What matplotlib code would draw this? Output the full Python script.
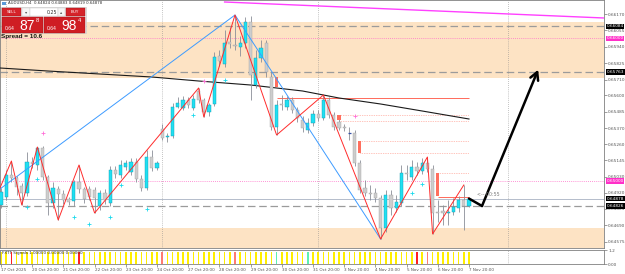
import matplotlib
matplotlib.use("Agg")
import matplotlib.pyplot as plt
import matplotlib.transforms as mtransforms
from matplotlib.patches import Rectangle

W, H = 625, 274
PLOT_RIGHT = 604          # px, right edge of chart area
MAIN_BOTTOM = 248         # px, bottom of price window
SUB_TOP, SUB_BOTTOM = 250, 264
BAR_PX = 5.2              # px per H4 bar

# --- AUDUSD H4 candles, 17 Oct 20:00 .. 7 Nov 20:00 ---
opens = [0.64833, 0.64889, 0.65043, 0.65022, 0.64966, 0.64917, 0.65134, 0.65113, 0.65232, 0.65029,
         0.64847, 0.64945, 0.64910, 0.64875, 0.64861, 0.64994, 0.64945, 0.64945, 0.64938, 0.64826,
         0.64917, 0.64847, 0.65078, 0.65043, 0.65099, 0.65064, 0.65134, 0.65015, 0.64952, 0.65169,
         0.65092, 0.65365, 0.65309, 0.65316, 0.65519, 0.65512, 0.65568, 0.65512, 0.65631, 0.65568,
         0.65484, 0.65540, 0.65876, 0.65820, 0.65974, 0.65953, 0.65939, 0.65967, 0.66114, 0.65673,
         0.65862, 0.65967, 0.65729, 0.65379, 0.65540, 0.65519, 0.65568, 0.65498, 0.65428, 0.65358,
         0.65407, 0.65470, 0.65442, 0.65568, 0.65463, 0.65414, 0.65379, 0.65337, 0.65337, 0.65127,
         0.64952, 0.64917, 0.64917, 0.64882, 0.64672, 0.64903, 0.64812, 0.64847, 0.65057, 0.65029,
         0.65099, 0.65071, 0.65127, 0.65085, 0.64784, 0.64791, 0.64777, 0.64784, 0.64812, 0.64868,
         0.64824]
highs = [0.64952, 0.65078, 0.65141, 0.65036, 0.64987, 0.65204, 0.65169, 0.65239, 0.65246, 0.65043,
         0.64994, 0.64966, 0.64938, 0.64889, 0.65008, 0.65113, 0.64959, 0.64966, 0.64959, 0.64938,
         0.64945, 0.65106, 0.65106, 0.65148, 0.65148, 0.65162, 0.65162, 0.65043, 0.65218, 0.65218,
         0.65141, 0.65400, 0.65337, 0.65547, 0.65589, 0.65596, 0.65589, 0.65603, 0.65652, 0.65582,
         0.65547, 0.65904, 0.65918, 0.66058, 0.66079, 0.66163, 0.66016, 0.66149, 0.66156, 0.65918,
         0.65988, 0.65988, 0.65764, 0.65568, 0.65603, 0.65596, 0.65589, 0.65519, 0.65456, 0.65442,
         0.65498, 0.65498, 0.65603, 0.65589, 0.65484, 0.65442, 0.65400, 0.65379, 0.65358, 0.65148,
         0.65008, 0.64973, 0.64952, 0.64903, 0.64938, 0.64938, 0.64903, 0.65113, 0.65113, 0.65148,
         0.65134, 0.65162, 0.65169, 0.65113, 0.64868, 0.64833, 0.64868, 0.64882, 0.64896, 0.64973,
         0.64883]
lows = [0.64812, 0.64868, 0.64994, 0.64903, 0.64833, 0.64896, 0.65092, 0.65078, 0.65008, 0.64763,
        0.64812, 0.64728, 0.64840, 0.64833, 0.64826, 0.64917, 0.64847, 0.64868, 0.64777, 0.64798,
        0.64840, 0.64826, 0.65022, 0.65022, 0.65078, 0.65043, 0.64994, 0.64931, 0.64938, 0.65071,
        0.65078, 0.65288, 0.65274, 0.65302, 0.65512, 0.65498, 0.65512, 0.65498, 0.65547, 0.65449,
        0.65456, 0.65526, 0.65806, 0.65799, 0.65932, 0.65918, 0.65876, 0.65932, 0.65568, 0.65652,
        0.65834, 0.65729, 0.65358, 0.65323, 0.65498, 0.65498, 0.65477, 0.65414, 0.65344, 0.65337,
        0.65386, 0.65421, 0.65428, 0.65442, 0.65358, 0.65358, 0.65351, 0.65288, 0.65106, 0.64917,
        0.64896, 0.64868, 0.64854, 0.64595, 0.64644, 0.64763, 0.64784, 0.64826, 0.65008, 0.65008,
        0.65043, 0.65050, 0.65064, 0.64630, 0.64714, 0.64693, 0.64693, 0.64763, 0.64784, 0.64658,
        0.64819]
closes = [0.64924, 0.65043, 0.65022, 0.64959, 0.64917, 0.65134, 0.65120, 0.65232, 0.65029, 0.64847,
          0.64952, 0.64910, 0.64868, 0.64854, 0.64994, 0.64945, 0.64875, 0.64889, 0.64882, 0.64917,
          0.64868, 0.65078, 0.65050, 0.65113, 0.65127, 0.65134, 0.65015, 0.64952, 0.65169, 0.65092,
          0.65127, 0.65302, 0.65316, 0.65519, 0.65547, 0.65568, 0.65533, 0.65575, 0.65568, 0.65484,
          0.65533, 0.65869, 0.65841, 0.65967, 0.65960, 0.65946, 0.65967, 0.66114, 0.65743, 0.65862,
          0.65932, 0.65764, 0.65379, 0.65533, 0.65533, 0.65568, 0.65498, 0.65442, 0.65372, 0.65407,
          0.65470, 0.65442, 0.65568, 0.65463, 0.65379, 0.65372, 0.65372, 0.65337, 0.65127, 0.64938,
          0.64917, 0.64910, 0.64882, 0.64672, 0.64903, 0.64812, 0.64854, 0.65057, 0.65050, 0.65099,
          0.65071, 0.65127, 0.65085, 0.64777, 0.64777, 0.64777, 0.64784, 0.64819, 0.64868, 0.64826,
          0.64878]

# time axis
tick_bars = [0, 6, 12, 18, 24, 30, 36, 42, 48, 54, 60, 66, 72, 78, 84, 90]
tick_labels = ["17 Oct 2025", "20 Oct 20:00", "21 Oct 20:00", "22 Oct 20:00", "23 Oct 20:00",
               "24 Oct 20:00", "27 Oct 20:00", "28 Oct 20:00", "29 Oct 20:00", "30 Oct 20:00",
               "31 Oct 20:00", "3 Nov 20:00", "4 Nov 20:00", "5 Nov 20:00", "6 Nov 20:00",
               "7 Nov 20:00"]
separator_bars = [1, 31, 61, 97.5]

# right price scale
price_ticks = [0.66170, 0.66055, 0.65940, 0.65825, 0.65710, 0.65600, 0.65485, 0.65370,
               0.65260, 0.65145, 0.65030, 0.64920, 0.64805, 0.64690, 0.64575]

# indicators / objects
zigzag_bars = [-0.2, 2, 4, 7, 11, 15, 18, 38, 39, 45, 53, 62, 73, 82, 83, 89]
zigzag_vals = [0.64952, 0.65141, 0.64833, 0.65239, 0.64728, 0.65113, 0.64777, 0.65652,
               0.65449, 0.66163, 0.65323, 0.65603, 0.64595, 0.65169, 0.64630, 0.64973]
wave_bars = [-0.2, 45, 73]
wave_vals = [0.64945, 0.66163, 0.64595]
ma_bars = [-0.2, 9, 19, 29, 38, 48, 58, 65, 73, 81, 90]
ma_vals = [0.65792, 0.65771, 0.65750, 0.65729, 0.65701, 0.65673, 0.65631, 0.65582,
           0.65540, 0.65491, 0.65435]
trend_bars = [43, 116]
trend_vals = [0.66254, 0.66142]

supply_zone = (0.65725, 0.66115)
demand_zone = (0.64500, 0.64673)
dashed_levels = [0.66084, 0.65763, 0.64826]
round_levels = [0.66000, 0.65000]
bid = 0.64878

red_level = (53, 0.65582)
dotted_levels = [(65, 0.65463), (65, 0.65421), (69, 0.65281), (69, 0.65197), (84, 0.65057)]
solid_short = (84, 0.64889)
box_bars = [53, 65, 69, 84]
box_top = [0.65729, 0.65463, 0.65281, 0.65057]
box_bottom = [0.65659, 0.65428, 0.65197, 0.64896]

buy_mark_bars = [5, 7, 14, 17, 21, 23, 28, 37, 43, 79, 81]
buy_mark_vals = [0.64819, 0.65015, 0.64749, 0.64700, 0.64749, 0.64973, 0.64805, 0.65463,
                 0.65708, 0.64917, 0.64980]
sell_mark_bars = [8, 39, 68]
sell_mark_vals = [0.65337, 0.65702, 0.65456]

arrow_bars = [90, 92.5, 103.3]
arrow_vals = [0.64878, 0.64826, 0.65780]

signal_red = [2, 15, 80]
signal_salmon = [31, 45, 82]
signal_green = [53, 59]

# --- figure ---
n = len(opens)
bars = list(range(n))

fig = plt.figure(figsize=(W / 100, H / 100), dpi=100)
fig.patch.set_facecolor("white")
ax = fig.add_axes([0, 1 - MAIN_BOTTOM / H, PLOT_RIGHT / W, MAIN_BOTTOM / H])
ax2 = fig.add_axes([0, 1 - SUB_BOTTOM / H, PLOT_RIGHT / W, (SUB_BOTTOM - SUB_TOP) / H])

xlim = (-1 / BAR_PX, (PLOT_RIGHT - 1) / BAR_PX)
ax.set_xlim(*xlim)
ax.set_ylim(0.64532, 0.66268)

peach = "#fde3c4"
ax.axhspan(*supply_zone, color=peach, lw=0, zorder=0)
ax.axhspan(*demand_zone, color=peach, lw=0, zorder=0)
for v in dashed_levels:
    ax.axhline(v, color="#9b9b9b", lw=0.9, dashes=(6, 3), zorder=1)
for v in round_levels:
    ax.axhline(v, color="#ff70c8", lw=0.6, ls=(0, (1, 1.5)), zorder=1)
ax.axhline(bid, color="#b4bccb", lw=0.7, zorder=1)
for b in separator_bars:
    ax.axvline(b, color="#8c8c8c", lw=0.5, ls=(0, (1, 2)), zorder=1)
    ax2.axvline(b, color="#8c8c8c", lw=0.5, ls=(0, (1, 2)), zorder=1)

# levels drawn by the zone indicator
ax.hlines(red_level[1], red_level[0], n - 1, color="#ff6a5a", lw=0.7, zorder=2)
for b, v in dotted_levels:
    ax.hlines(v, b, n - 1, color="#ff8a7a", lw=0.5, ls=(0, (1, 1.5)), zorder=2)
ax.hlines(solid_short[1], solid_short[0], n - 1, color="#ff6a5a", lw=0.7, zorder=2)

# moving average and trend line
ax.plot(ma_bars, ma_vals, color="#1a1a1a", lw=0.8, zorder=3)
ax.plot(trend_bars, trend_vals, color="#ff40ff", lw=1.0, zorder=3)

# candles
ax.vlines(bars, lows, highs, color="#8a8e98", lw=0.6, zorder=4)
bull_x, bull_b, bull_h = [], [], []
bear_x, bear_b, bear_h = [], [], []
doji_x, doji_v = [], []
for i in bars:
    o, c = opens[i], closes[i]
    if abs(c - o) < 0.00004:
        doji_x.append(i)
        doji_v.append(o)
    elif c > o:
        bull_x.append(i); bull_b.append(o); bull_h.append(c - o)
    else:
        bear_x.append(i); bear_b.append(c); bear_h.append(o - c)
ax.bar(bear_x, bear_h, bottom=bear_b, width=0.62, color="#cdcdcd", edgecolor="#a4a4a4",
       lw=0.3, zorder=5)
ax.bar(bull_x, bull_h, bottom=bull_b, width=0.62, color="#1fe0f2", edgecolor="#1596ad",
       lw=0.3, zorder=5)
ax.hlines(doji_v, [x - 0.35 for x in doji_x], [x + 0.35 for x in doji_x], color="#3550a8",
          lw=0.9, zorder=5)

ax.bar(box_bars, [t - b for t, b in zip(box_top, box_bottom)], bottom=box_bottom, width=0.6,
       color="#ff6f5e", lw=0, zorder=6)

ax.plot(wave_bars, wave_vals, color="#3d9bff", lw=0.7, zorder=6)
ax.plot(zigzag_bars, zigzag_vals, color="#ff2b2b", lw=0.7, zorder=7)

ax.plot(buy_mark_bars, buy_mark_vals, "+", color="#19d9ec", ms=2.4, mew=0.6, zorder=7)
ax.plot(sell_mark_bars, sell_mark_vals, "+", color="#ff6fd8", ms=2.4, mew=0.6, zorder=7)

# hand drawn arrow
ax.plot(arrow_bars[:2], arrow_vals[:2], color="black", lw=1.8, solid_capstyle="round", zorder=8)
ax.annotate("", xy=(arrow_bars[2], arrow_vals[2]), xytext=(arrow_bars[1], arrow_vals[1]),
            arrowprops=dict(arrowstyle="->,head_length=0.55,head_width=0.3", color="black",
                            lw=1.8, shrinkA=0, shrinkB=0), zorder=8)

ax.text(91.5, 0.64905, "<-- 00:55", fontsize=3.4, color="#7a7a7a", va="center", zorder=8)

# right price scale
ax.yaxis.tick_right()
ax.set_yticks(price_ticks)
ax.set_yticklabels([f"{v:.5f}" for v in price_ticks], fontsize=3.1, color="#404040")
ax.tick_params(axis="y", length=2, width=0.4, pad=1, colors="#555555")
ax.set_xticks([])
for s in ax.spines.values():
    s.set_color("#808080")
    s.set_linewidth(0.6)

trans = mtransforms.blended_transform_factory(ax.transAxes, ax.transData)
tags = [(0.66084, "black"), (0.66000, "#ff2fc8"), (0.65763, "black"), (0.65000, "#ff2fc8"),
        (bid, "black"), (0.64826, "black")]
for v, col in tags:
    ax.text(1.004, v, f"{v:.5f}", transform=trans, fontsize=3.1, color="white", va="center",
            ha="left", clip_on=False, zorder=10,
            bbox=dict(boxstyle="square,pad=0.18", fc=col, ec="none"))

# signals sub-window
sig_colors = []
for i in bars:
    if i in signal_red:
        sig_colors.append("#ff2020")
    elif i in signal_salmon:
        sig_colors.append("#ff7b70")
    elif i in signal_green:
        sig_colors.append("#5cf0b0")
    else:
        sig_colors.append("#ffee00")
ax2.bar(bars, [1] * n, width=0.32, color=sig_colors, lw=0)
ax2.set_xlim(*xlim)
ax2.set_ylim(0, 1.2)
ax2.yaxis.tick_right()
ax2.set_yticks([1.2, 0.0])
ax2.set_yticklabels(["1.2", "0.00"], fontsize=3.1, color="#404040")
ax2.tick_params(axis="y", length=2, width=0.4, pad=1, colors="#555555")
ax2.set_xticks(tick_bars)
ax2.set_xticklabels(tick_labels, fontsize=3.0, ha="left", color="#404040")
ax2.tick_params(axis="x", length=2, width=0.4, pad=1.2, colors="#555555")
for s in ax2.spines.values():
    s.set_color("#808080")
    s.set_linewidth(0.6)
ax2.text(0.004, 0.93, "FXTT Signals 1.00000 0.00000 0.00000", transform=ax2.transAxes,
         fontsize=3.0, color="#303030", va="top")

# --- trade panel overlay (pixel coordinates) ---
ov = fig.add_axes([0, 0, 1, 1], zorder=20)
ov.set_xlim(0, W)
ov.set_ylim(H, 0)
ov.axis("off")
ov.patch.set_alpha(0)

ov.text(8, 3.2, "AUDUSD,H4  0.64824 0.64883 0.64819 0.64878", fontsize=2.8,
        color="#303030", va="center")
ov.add_patch(Rectangle((2, 1.5), 4, 3.5, fc="#5a9ad8", ec="none"))

red = "#d5232a"
ov.add_patch(Rectangle((1, 7), 84.5, 26, fc="#efefef", ec="#c4c4c4", lw=0.4))
ov.add_patch(Rectangle((2, 8), 19, 8, fc=red, ec="#a01015", lw=0.3))
ov.text(11.5, 12.2, "SELL", fontsize=3.0, color="white", ha="center", va="center")
ov.add_patch(Rectangle((22, 8), 8, 8, fc="#f6f6f6", ec="#c8c8c8", lw=0.3))
ov.text(26, 12, "\u25be", fontsize=3.2, color="#555555", ha="center", va="center")
ov.add_patch(Rectangle((30, 8), 28, 8, fc="white", ec="#c8c8c8", lw=0.3))
ov.text(57, 12.2, "0.25", fontsize=3.4, color="#303030", ha="right", va="center")
ov.add_patch(Rectangle((58, 8), 7, 8, fc="#f6f6f6", ec="#c8c8c8", lw=0.3))
ov.text(61.5, 12, "\u25b4", fontsize=3.2, color="#555555", ha="center", va="center")
ov.add_patch(Rectangle((65.5, 8), 19.5, 8, fc=red, ec="#a01015", lw=0.3))
ov.text(75, 12.2, "BUY", fontsize=3.0, color="white", ha="center", va="center")

for x0, big, sup in [(2, "87", "8"), (44, "98", "4")]:
    ov.add_patch(Rectangle((x0, 17), 41, 15.5, fc="#cf1d24", ec="#a01015", lw=0.3))
    ov.text(x0 + 3, 29.5, "0.64", fontsize=3.6, color="white", va="baseline",
            family="Liberation Sans")
    ov.text(x0 + 17, 30.2, big, fontsize=10, color="white", va="baseline",
            family="Liberation Sans")
    ov.text(x0 + 34, 22, sup, fontsize=4.2, color="white", va="baseline",
            family="Liberation Sans")

ov.text(1, 36.5, "Spread = 10.6", fontsize=4.6, fontweight="bold", color="#111111",
        va="center", family="Liberation Sans")

fig.savefig("out.png", dpi=100, facecolor="white")
